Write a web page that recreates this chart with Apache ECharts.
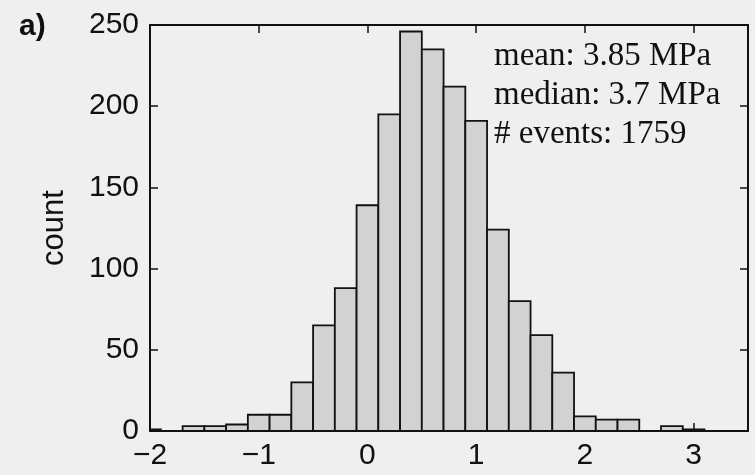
<!DOCTYPE html>
<html>
<head>
<meta charset="utf-8">
<script src="https://cdn.jsdelivr.net/npm/echarts@6/dist/echarts.min.js"></script>
<style>
html,body{margin:0;padding:0;background:#efefef;}
#c{width:755px;height:475px;}
</style>
</head>
<body>
<div id="c"></div>
<script>
// Histogram bin centres (width 0.2) and counts
var binCenters = [-2.0, -1.8, -1.6, -1.4, -1.2, -1.0, -0.8, -0.6, -0.4, -0.2, 0.0, 0.2, 0.4, 0.6, 0.8, 1.0, 1.2, 1.4, 1.6, 1.8, 2.0, 2.2, 2.4, 2.6, 2.8, 3.0, 3.2, 3.4];
var counts     = [1, 0, 3, 3, 4, 10, 10, 30, 65, 88, 139, 195, 246, 235, 212, 191, 124, 80, 59, 36, 9, 7, 7, 0, 3, 1, 0, 0];
var binWidth = 0.2;
var xTicks = [-2, -1, 0, 1, 2, 3];
var yTicks = [0, 50, 100, 150, 200, 250];
var annotations = ['mean: 3.85 MPa', 'median: 3.7 MPa', '# events: 1759'];
var panelLabel = 'a)';
var yTitle = 'count';

var data = binCenters.map(function (c, i) { return [c, counts[i]]; });

var chart = echarts.init(document.getElementById('c'), null, {renderer: 'canvas'});
var sans = '"Liberation Sans", Arial, Helvetica, sans-serif';
var serif = '"Liberation Serif", "Times New Roman", serif';

var option = {
  backgroundColor: '#efefef',
  animation: false,
  grid: {left: 150, top: 25, right: 7, bottom: 44, containLabel: false},
  xAxis: [{
    type: 'value', min: -2, max: 3.5, interval: 1, position: 'bottom',
    axisLine: {show: true, onZero: false, lineStyle: {color: '#111', width: 2}},
    axisTick: {show: true, inside: true, length: 8, lineStyle: {color: '#111', width: 1.5}},
    splitLine: {show: false},
    axisLabel: {
      margin: 10, color: '#111', fontFamily: sans, fontSize: 30,
      showMaxLabel: false,
      formatter: function (v) { return xTicks.indexOf(v) >= 0 ? String(v).replace('-', '\u2212') : ''; }
    }
  }, {
    type: 'value', min: -2, max: 3.5, interval: 1, position: 'top',
    axisLine: {show: true, onZero: false, lineStyle: {color: '#111', width: 2}},
    axisTick: {show: true, inside: true, length: 8, lineStyle: {color: '#111', width: 1.5}},
    splitLine: {show: false}, axisLabel: {show: false}
  }],
  yAxis: [{
    type: 'value', min: 0, max: 250, interval: 50, position: 'left',
    name: yTitle, nameLocation: 'middle', nameGap: 80, nameRotate: 90,
    nameTextStyle: {fontFamily: sans, fontSize: 31, color: '#111'},
    axisLine: {show: true, onZero: false, lineStyle: {color: '#111', width: 2}},
    axisTick: {show: true, inside: true, length: 8, lineStyle: {color: '#111', width: 1.5}},
    splitLine: {show: false},
    axisLabel: {
      margin: 11, color: '#111', fontFamily: sans, fontSize: 30,
      formatter: function (v) { return yTicks.indexOf(v) >= 0 ? String(v) : ''; }
    }
  }, {
    type: 'value', min: 0, max: 250, interval: 50, position: 'right',
    axisLine: {show: true, onZero: false, lineStyle: {color: '#111', width: 2}},
    axisTick: {show: true, inside: true, length: 8, lineStyle: {color: '#111', width: 1.5}},
    splitLine: {show: false}, axisLabel: {show: false}
  }],
  series: [{
    type: 'custom',
    clip: true,
    data: data,
    encode: {x: 0, y: 1},
    renderItem: function (params, api) {
      var c = api.value(0), v = api.value(1);
      if (!v) { return null; }
      var p0 = api.coord([c - binWidth / 2, v]);
      var p1 = api.coord([c + binWidth / 2, 0]);
      var shape = echarts.graphic.clipRectByRect(
        {x: p0[0], y: p0[1], width: p1[0] - p0[0], height: p1[1] - p0[1]},
        {x: params.coordSys.x, y: params.coordSys.y, width: params.coordSys.width, height: params.coordSys.height}
      );
      if (!shape) { return null; }
      return {
        type: 'rect', shape: shape,
        style: {fill: '#d2d2d2', stroke: '#111', lineWidth: 1.8}
      };
    }
  }],
  graphic: [
    {type: 'text', left: 19, top: 12, style: {text: panelLabel, font: 'bold 30px ' + sans, fill: '#111'}},
    {type: 'text', x: 494, y: 56, style: {text: annotations[0], font: '33px ' + serif, fill: '#111', verticalAlign: 'middle'}},
    {type: 'text', x: 494, y: 95, style: {text: annotations[1], font: '33px ' + serif, fill: '#111', verticalAlign: 'middle'}},
    {type: 'text', x: 494, y: 134, style: {text: annotations[2], font: '33px ' + serif, fill: '#111', verticalAlign: 'middle'}}
  ]
};
chart.setOption(option);
</script>
</body>
</html>
